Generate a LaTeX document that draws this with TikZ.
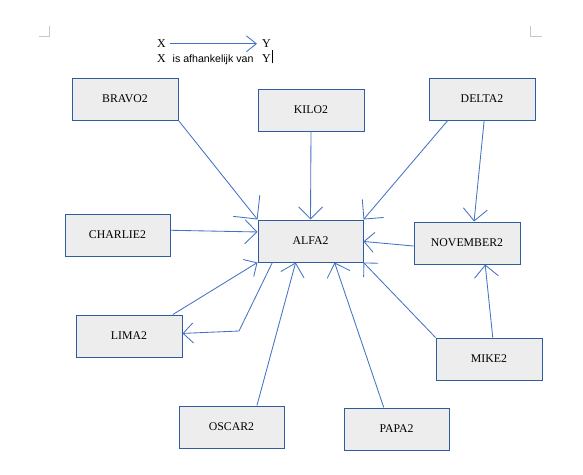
\documentclass[tikz,border=0pt]{standalone}
\usepackage{fontspec}
\setmainfont{Liberation Serif}
\newfontfamily\legsans{Liberation Sans}
\usetikzlibrary{arrows.meta,calc}
\definecolor{lineblue}{RGB}{68,114,196}
\definecolor{boxblue}{RGB}{47,92,158}
\definecolor{boxfill}{RGB}{237,237,237}
\definecolor{markgray}{RGB}{200,200,200}
\begin{document}
\begin{tikzpicture}[x=1pt,y=-1pt,
  box/.style={draw=boxblue, fill=boxfill, line width=1.0pt, minimum width=106pt, minimum height=42pt, inner sep=0pt, font=\fontsize{11.8}{13}\selectfont},
  conn/.style={draw=lineblue, line width=0.85pt},
  tipn/.style={-{Straight Barb[length=12pt,width=24pt]}},
  tipm/.style={-{Straight Barb[length=10pt,width=20pt]}},
  tipd/.style={-{Straight Barb[length=14pt,width=28pt]}},
  tipb/.style={-{Straight Barb[length=17pt,width=34pt]}},
  legtxt/.style={inner sep=0pt, anchor=base west, font=\fontsize{12}{14}\selectfont},
  legsanstxt/.style={inner sep=0pt, anchor=base west, font=\legsans\fontsize{10.6}{13}\selectfont}
]
\useasboundingbox (0,0) rectangle (583,474);

% page corner marks
\draw[markgray, line width=0.8pt] (39,36) -- (49,36) -- (49,26);
\draw[markgray, line width=0.8pt] (530,26) -- (530,36) -- (542,36);

% legend
\node[legtxt] (x1) at (157,47.7) {X};
\node[legtxt] (y1) at (262,47.7) {Y};
\draw[conn, -{Straight Barb[length=10pt,width=16pt]}, shorten <=3.5pt, shorten >=5pt] (x1.east) -- (y1.west);
\node[legtxt] (x2) at (157,62) {X};
\node[legsanstxt] (mid) at (172.5,62) {is afhankelijk van};
\node[legtxt] (y2) at (262,62) {Y};
\draw[black, line width=0.7pt] ([xshift=1.5pt,yshift=-1pt]y2.south east) -- ([xshift=1.5pt,yshift=4pt]y2.north east);

% boxes
\node[box] (bravo) at (125,99) {BRAVO2};
\node[box] (kilo) at (311,110) {KILO2};
\node[box] (delta) at (482,99) {DELTA2};
\node[box, minimum width=105pt] (charlie) at (117.5,235) {CHARLIE2};
\node[box, minimum width=105pt] (alfa) at (310.5,241) {ALFA2};
\node[box] (nov) at (467,243) {NOVEMBER2};
\node[box] (lima) at (129,336) {LIMA2};
\node[box] (mike) at (489,359) {MIKE2};
\node[box, minimum width=105pt] (oscar) at (231.5,427) {OSCAR2};
\node[box, minimum width=105pt] (papa) at (396.5,429) {PAPA2};

% connectors
\draw[conn, tipb] (bravo.south east) -- (alfa.north west);
\draw[conn, tipn] (kilo.south) -- (alfa.north);
\draw[conn, tipd] ($(delta.south west)!0.18!(delta.south east)$) -- (alfa.north east);
\draw[conn, tipn] ($(delta.south west)!0.52!(delta.south east)$) -- ($(nov.north west)!0.566!(nov.north east)$);
\draw[conn, tipn] ($(charlie.north east)!0.39!(charlie.south east)$) -- ($(alfa.north west)!0.29!(alfa.south west)$);
\draw[conn, tipm] ($(nov.north west)!0.57!(nov.south west)$) -- ($(alfa.north east)!0.51!(alfa.south east)$);
\draw[conn, tipn] ($(mike.north west)!0.535!(mike.north east)$) -- ($(nov.south west)!0.67!(nov.south east)$);
\draw[conn, tipm] (mike.north west) -- (alfa.south east);
\draw[conn, tipn] ($(papa.north west)!0.38!(papa.north east)$) -- ($(alfa.south west)!0.727!(alfa.south east)$);
\draw[conn, tipn] ($(oscar.north west)!0.74!(oscar.north east)$) -- ($(alfa.south west)!0.36!(alfa.south east)$);
\coordinate (bend) at (239,331);
\draw[conn, tipm] ($(alfa.south west)!0.14!(alfa.south east)$) -- (bend) -- ($(lima.north east)!0.44!(lima.south east)$);
\draw[conn, tipm] ($(lima.north west)!0.91!(lima.north east)$) -- (alfa.south west);
\end{tikzpicture}
\end{document}
